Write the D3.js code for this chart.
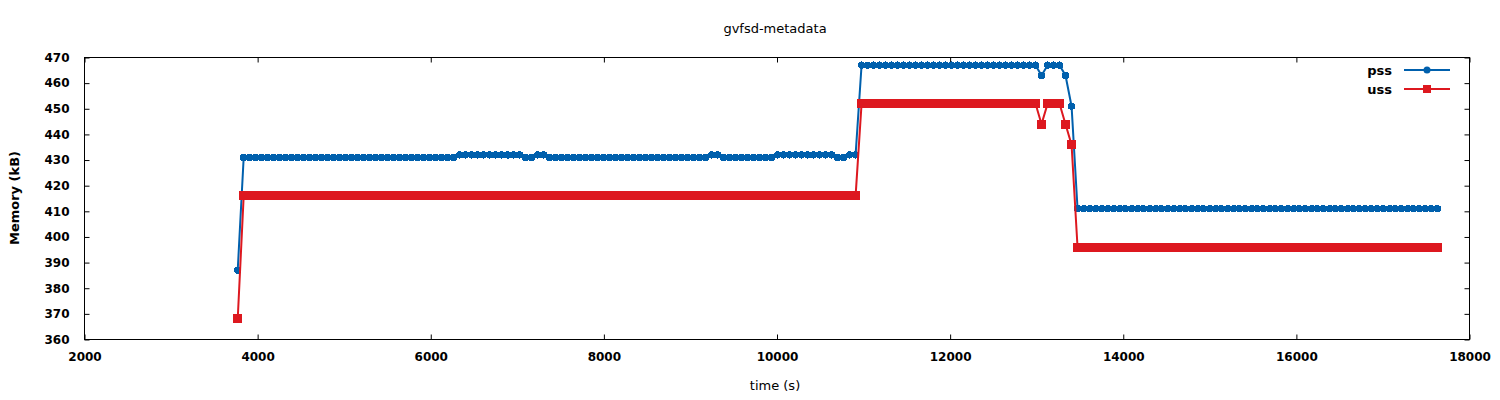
<!DOCTYPE html>
<html>
<head>
<meta charset="utf-8">
<script src="https://cdn.jsdelivr.net/npm/d3@7"></script>
<style>
    body { margin: 0; background: #fff; }
    text { font-family: "DejaVu Sans", sans-serif; fill: #000; }
    .tick text { font-weight: bold; font-size: 12px; }
</style>
</head>
<body>
<script>
// sample times (s), one row per ten samples
const times = [
    3770, 3839, 3909, 3978, 4047, 4117, 4186, 4255, 4324, 4394,
    4463, 4532, 4602, 4671, 4740, 4810, 4879, 4948, 5017, 5087,
    5156, 5225, 5295, 5364, 5433, 5503, 5572, 5641, 5710, 5780,
    5849, 5918, 5988, 6057, 6126, 6196, 6265, 6334, 6403, 6473,
    6542, 6611, 6681, 6750, 6819, 6889, 6958, 7027, 7096, 7166,
    7235, 7304, 7374, 7443, 7512, 7582, 7651, 7720, 7789, 7859,
    7928, 7997, 8067, 8136, 8205, 8275, 8344, 8413, 8482, 8552,
    8621, 8690, 8760, 8829, 8898, 8968, 9037, 9106, 9175, 9245,
    9314, 9383, 9453, 9522, 9591, 9661, 9730, 9799, 9868, 9938,
    10007, 10076, 10146, 10215, 10284, 10354, 10423, 10492, 10561, 10631,
    10700, 10769, 10839, 10908, 10977, 11047, 11116, 11185, 11254, 11324,
    11393, 11462, 11532, 11601, 11670, 11740, 11809, 11878, 11947, 12017,
    12086, 12155, 12225, 12294, 12363, 12433, 12502, 12571, 12640, 12710,
    12779, 12848, 12918, 12987, 13056, 13126, 13195, 13264, 13333, 13403,
    13472, 13541, 13611, 13680, 13749, 13819, 13888, 13957, 14026, 14096,
    14165, 14234, 14304, 14373, 14442, 14512, 14581, 14650, 14719, 14789,
    14858, 14927, 14997, 15066, 15135, 15205, 15274, 15343, 15412, 15482,
    15551, 15620, 15690, 15759, 15828, 15898, 15967, 16036, 16105, 16175,
    16244, 16313, 16383, 16452, 16521, 16591, 16660, 16729, 16798, 16868,
    16937, 17006, 17076, 17145, 17214, 17284, 17353, 17422, 17491, 17561,
    17630
];

const pss = [
    387, 431, 431, 431, 431, 431, 431, 431, 431, 431,
    431, 431, 431, 431, 431, 431, 431, 431, 431, 431,
    431, 431, 431, 431, 431, 431, 431, 431, 431, 431,
    431, 431, 431, 431, 431, 431, 431, 432, 432, 432,
    432, 432, 432, 432, 432, 432, 432, 432, 431, 431,
    432, 432, 431, 431, 431, 431, 431, 431, 431, 431,
    431, 431, 431, 431, 431, 431, 431, 431, 431, 431,
    431, 431, 431, 431, 431, 431, 431, 431, 431, 432,
    432, 431, 431, 431, 431, 431, 431, 431, 431, 431,
    432, 432, 432, 432, 432, 432, 432, 432, 432, 432,
    431, 431, 432, 432, 467, 467, 467, 467, 467, 467,
    467, 467, 467, 467, 467, 467, 467, 467, 467, 467,
    467, 467, 467, 467, 467, 467, 467, 467, 467, 467,
    467, 467, 467, 467, 463, 467, 467, 467, 463, 451,
    411, 411, 411, 411, 411, 411, 411, 411, 411, 411,
    411, 411, 411, 411, 411, 411, 411, 411, 411, 411,
    411, 411, 411, 411, 411, 411, 411, 411, 411, 411,
    411, 411, 411, 411, 411, 411, 411, 411, 411, 411,
    411, 411, 411, 411, 411, 411, 411, 411, 411, 411,
    411, 411, 411, 411, 411, 411, 411, 411, 411, 411,
    411
];

const uss = [
    368, 416, 416, 416, 416, 416, 416, 416, 416, 416,
    416, 416, 416, 416, 416, 416, 416, 416, 416, 416,
    416, 416, 416, 416, 416, 416, 416, 416, 416, 416,
    416, 416, 416, 416, 416, 416, 416, 416, 416, 416,
    416, 416, 416, 416, 416, 416, 416, 416, 416, 416,
    416, 416, 416, 416, 416, 416, 416, 416, 416, 416,
    416, 416, 416, 416, 416, 416, 416, 416, 416, 416,
    416, 416, 416, 416, 416, 416, 416, 416, 416, 416,
    416, 416, 416, 416, 416, 416, 416, 416, 416, 416,
    416, 416, 416, 416, 416, 416, 416, 416, 416, 416,
    416, 416, 416, 416, 452, 452, 452, 452, 452, 452,
    452, 452, 452, 452, 452, 452, 452, 452, 452, 452,
    452, 452, 452, 452, 452, 452, 452, 452, 452, 452,
    452, 452, 452, 452, 444, 452, 452, 452, 444, 436,
    396, 396, 396, 396, 396, 396, 396, 396, 396, 396,
    396, 396, 396, 396, 396, 396, 396, 396, 396, 396,
    396, 396, 396, 396, 396, 396, 396, 396, 396, 396,
    396, 396, 396, 396, 396, 396, 396, 396, 396, 396,
    396, 396, 396, 396, 396, 396, 396, 396, 396, 396,
    396, 396, 396, 396, 396, 396, 396, 396, 396, 396,
    396
];

const xTicks = [2000, 4000, 6000, 8000, 10000, 12000, 14000, 16000, 18000];
const yTicks = [360, 370, 380, 390, 400, 410, 420, 430, 440, 450, 460, 470];

(function(){
    "use strict";
    let width = 1500;
    let height = 400;
    let plot = {left: 84.5, right: 1469.5, top: 57.5, bottom: 339.5};
    const blue = "#0060ad";
    const red = "#dd181f";

    let svg = d3.select('body')
        .append("svg")
            .attr('width', width)
            .attr('height', height);

    svg.append("rect")
        .attr("width", width)
        .attr("height", height)
        .attr("fill", "#fff");

    let xScale = d3.scaleLinear()
        .domain([2000, 18000])
        .range([plot.left, plot.right]);

    let yScale = d3.scaleLinear()
        .domain([360, 470])
        .range([plot.bottom, plot.top]);

    drawAxes(xScale, yScale);

    let rows = times.map((t, i) => ({t: t, pss: pss[i], uss: uss[i]}));
    plotSeries(rows, "pss", blue, "circle");
    plotSeries(rows, "uss", red, "square");

    drawLegend();

    function drawAxes(xScale, yScale) {
        // gnuplot style: ticks point inwards on all four sides
        svg.append('g')
            .attr('transform', 'translate(0,' + plot.bottom + ')')
            .call(d3.axisBottom(xScale).tickValues(xTicks).tickFormat(d3.format("d"))
                .tickSizeInner(-5).tickSizeOuter(0).tickPadding(13))
            .call(g => g.select(".domain").remove());

        svg.append('g')
            .attr('transform', 'translate(0,' + plot.top + ')')
            .call(d3.axisTop(xScale).tickValues(xTicks).tickSizeInner(-5).tickSizeOuter(0).tickFormat(""))
            .call(g => g.select(".domain").remove());

        svg.append('g')
            .attr('transform', 'translate(' + plot.left + ',0)')
            .call(d3.axisLeft(yScale).tickValues(yTicks).tickSizeInner(-5).tickSizeOuter(0).tickPadding(15))
            .call(g => g.select(".domain").remove());

        svg.append('g')
            .attr('transform', 'translate(' + plot.right + ',0)')
            .call(d3.axisRight(yScale).tickValues(yTicks).tickSizeInner(-5).tickSizeOuter(0).tickFormat(""))
            .call(g => g.select(".domain").remove());

        svg.selectAll(".tick text").attr("fill", "#000");

        svg.append("rect")
            .attr("x", plot.left)
            .attr("y", plot.top)
            .attr("width", plot.right - plot.left)
            .attr("height", plot.bottom - plot.top)
            .attr("fill", "none")
            .attr("stroke", "#000");

        svg.append("text")
            .attr("x", 775)
            .attr("y", 33)
            .style("text-anchor", "middle")
            .style("font-size", "13px")
            .text("gvfsd-metadata");

        svg.append("text")
            .attr("x", 775)
            .attr("y", 390)
            .style("text-anchor", "middle")
            .style("font-size", "13px")
            .text("time (s)");

        svg.append("text")
            .attr("transform", "translate(19,198) rotate(-90)")
            .style("text-anchor", "middle")
            .style("font-size", "13px")
            .style("font-weight", "bold")
            .text("Memory (kB)");
    }

    function plotSeries(rows, key, color, shape) {
        let line = d3.line()
            .x(d => xScale(d.t))
            .y(d => yScale(d[key]));

        svg.append("path")
            .datum(rows)
            .attr("d", line)
            .attr("fill", "none")
            .attr("stroke", color)
            .attr("stroke-width", 2);

        // markers drawn without smoothing, like the png terminal
        let marks = svg.append("g")
            .attr("fill", color)
            .attr("shape-rendering", "crispEdges");
        if (shape == "circle") {
            marks.selectAll("circle")
                .data(rows)
                .enter()
                .append("circle")
                    .attr("cx", d => xScale(d.t))
                    .attr("cy", d => yScale(d[key]))
                    .attr("r", 3.7);
        } else {
            marks.selectAll("rect")
                .data(rows)
                .enter()
                .append("rect")
                    .attr("x", d => xScale(d.t) - 4.5)
                    .attr("y", d => yScale(d[key]) - 4.5)
                    .attr("width", 9)
                    .attr("height", 9);
        }
    }

    function drawLegend() {
        let items = [
            {name: "pss", color: blue, shape: "circle", y: 70},
            {name: "uss", color: red, shape: "square", y: 89}
        ];
        items.forEach(item => {
            svg.append("text")
                .attr("x", 1392)
                .attr("y", item.y + 5)
                .style("text-anchor", "end")
                .style("font-size", "13px")
                .style("font-weight", "bold")
                .text(item.name);
            svg.append("line")
                .attr("x1", 1404).attr("x2", 1450)
                .attr("y1", item.y).attr("y2", item.y)
                .attr("stroke", item.color)
                .attr("stroke-width", 2);
            if (item.shape == "circle") {
                svg.append("circle")
                    .attr("cx", 1427).attr("cy", item.y)
                    .attr("r", 3.5)
                    .attr("fill", item.color);
            } else {
                svg.append("rect")
                    .attr("x", 1423).attr("y", item.y - 4)
                    .attr("width", 8).attr("height", 8)
                    .attr("fill", item.color);
            }
        });
    }
})()
</script>
</body>
</html>
